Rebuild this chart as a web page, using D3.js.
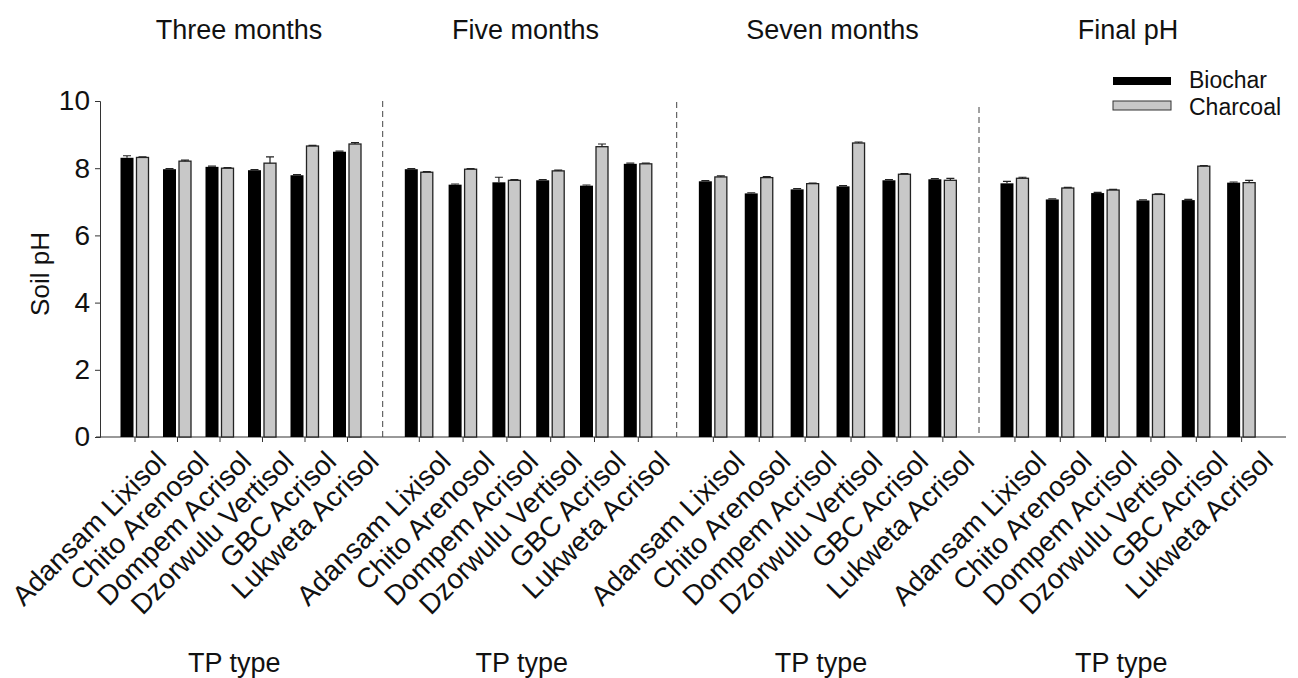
<!DOCTYPE html>
<html>
<head>
<meta charset="utf-8">
<script src="https://cdn.jsdelivr.net/npm/d3@7"></script>
<style>
  body { margin: 0; background: #fff; }
  svg { display: block; font-family: Arial, "Liberation Sans", sans-serif; }
</style>
</head>
<body>
<div id="chart"></div>
<script>
const periods = ["Three months", "Five months", "Seven months", "Final pH"];
const soils = ["Adansam Lixisol", "Chito Arenosol", "Dompem Acrisol", "Dzorwulu Vertisol", "GBC Acrisol", "Lukweta Acrisol"];
const seriesNames = ["Biochar", "Charcoal"];

// soil pH, one row per period
const biochar = [
  [8.31, 7.97, 8.04, 7.94, 7.79, 8.49],
  [7.97, 7.51, 7.58, 7.64, 7.48, 8.13],
  [7.61, 7.25, 7.37, 7.46, 7.64, 7.67],
  [7.55, 7.07, 7.26, 7.04, 7.05, 7.57]
];
const charcoal = [
  [8.32, 8.21, 8.00, 8.15, 8.66, 8.72],
  [7.88, 7.97, 7.64, 7.92, 8.64, 8.13],
  [7.74, 7.72, 7.54, 8.75, 7.82, 7.64],
  [7.70, 7.41, 7.35, 7.22, 8.06, 7.57]
];
// standard errors (upper side only)
const biocharErr = [
  [0.06, 0.02, 0.02, 0.02, 0.02, 0.02],
  [0.02, 0.02, 0.15, 0.02, 0.02, 0.02],
  [0.02, 0.02, 0.02, 0.02, 0.02, 0.02],
  [0.06, 0.02, 0.02, 0.02, 0.02, 0.02]
];
const charcoalErr = [
  [0.02, 0.03, 0.02, 0.19, 0.02, 0.04],
  [0.02, 0.02, 0.02, 0.02, 0.08, 0.02],
  [0.03, 0.03, 0.02, 0.03, 0.02, 0.06],
  [0.03, 0.02, 0.02, 0.02, 0.02, 0.07]
];
const yTicks = [0, 2, 4, 6, 8, 10];

const width = 1298, height = 678;
const baseY = 437, topY = 101;
// horizontal extent of each panel
const panelRanges = [[113.75, 368.75], [397.4, 660.2], [690.4, 965.8], [992.3, 1264.3]];
const titleX = [239, 525.5, 832.5, 1128];
const dividers = [[382.7, 101], [676.7, 102], [979, 107]];
const barW = 13;
const grey = "#c8c8c8";

const svg = d3.select("#chart").append("svg")
  .attr("width", width)
  .attr("height", height);

const y = d3.scaleLinear().domain([0, 10]).range([baseY, topY]);

// y axis
const yAxis = svg.append("g")
  .attr("transform", "translate(100,0)")
  .call(d3.axisLeft(y).tickValues(yTicks).tickSize(5).tickPadding(5));
yAxis.select(".domain").attr("stroke", "#333");
yAxis.selectAll(".tick line").attr("stroke", "#333");
yAxis.selectAll("text").attr("font-size", 28).attr("fill", "#111");

svg.append("text")
  .attr("transform", "translate(49,274) rotate(-90)")
  .attr("text-anchor", "middle")
  .attr("font-size", 26)
  .attr("fill", "#111")
  .text("Soil pH");

// baseline
svg.append("line")
  .attr("x1", 96).attr("x2", 1286)
  .attr("y1", baseY).attr("y2", baseY)
  .attr("stroke", "#333");

// dashed dividers between periods
svg.selectAll(".divider")
  .data(dividers)
  .join("line")
  .attr("class", "divider")
  .attr("x1", d => d[0]).attr("x2", d => d[0])
  .attr("y1", d => d[1]).attr("y2", baseY)
  .attr("stroke", "#444")
  .attr("stroke-dasharray", "6,4");

periods.forEach((period, p) => {
  const [a, b] = panelRanges[p];
  const x = d3.scaleBand().domain(soils).range([a, b]);
  const cx = s => x(s) + x.bandwidth() / 2;
  const g = svg.append("g");

  const xAxis = g.append("g")
    .attr("transform", `translate(0,${baseY})`)
    .call(d3.axisBottom(x).tickSize(5));
  xAxis.select(".domain").remove();
  xAxis.selectAll(".tick line").attr("stroke", "#333");
  xAxis.selectAll("text")
    .attr("x", 0).attr("y", 0).attr("dy", 0)
    .attr("text-anchor", "end")
    .attr("transform", "translate(33,26) rotate(-45)")
    .attr("font-size", 28)
    .attr("fill", "#111");

  // biochar bars
  g.selectAll(".bio")
    .data(soils)
    .join("rect")
    .attr("x", s => cx(s) - barW - 1.5)
    .attr("y", (s, i) => y(biochar[p][i]))
    .attr("width", barW)
    .attr("height", (s, i) => baseY - y(biochar[p][i]))
    .attr("fill", "#000");

  // charcoal bars
  g.selectAll(".char")
    .data(soils)
    .join("rect")
    .attr("x", s => cx(s) + 1.5)
    .attr("y", (s, i) => y(charcoal[p][i]))
    .attr("width", barW - 1)
    .attr("height", (s, i) => baseY - y(charcoal[p][i]))
    .attr("fill", grey)
    .attr("stroke", "#222")
    .attr("stroke-width", 1.3);

  // error bars
  const errs = [
    soils.map((s, i) => ({ x: cx(s) - barW / 2 - 1.5, v: biochar[p][i], e: biocharErr[p][i] })),
    soils.map((s, i) => ({ x: cx(s) + barW / 2 + 1, v: charcoal[p][i], e: charcoalErr[p][i] }))
  ].flat();
  g.selectAll(".err")
    .data(errs)
    .join("path")
    .attr("d", d => `M${d.x},${y(d.v)}V${y(d.v + d.e)}M${d.x - 4},${y(d.v + d.e)}H${d.x + 4}`)
    .attr("stroke", "#222")
    .attr("stroke-width", 1.2)
    .attr("fill", "none");

  // panel title and axis title
  svg.append("text")
    .attr("x", titleX[p])
    .attr("y", 39)
    .attr("text-anchor", "middle")
    .attr("font-size", 27)
    .attr("fill", "#111")
    .text(period);

  svg.append("text")
    .attr("x", (a + b) / 2 - 7)
    .attr("y", 672)
    .attr("text-anchor", "middle")
    .attr("font-size", 27)
    .attr("fill", "#111")
    .text("TP type");
});

// legend
const legend = svg.append("g").attr("transform", "translate(1113,0)");
legend.selectAll("rect")
  .data(seriesNames)
  .join("rect")
  .attr("x", 0)
  .attr("y", (d, i) => i === 0 ? 77 : 101)
  .attr("width", 58)
  .attr("height", (d, i) => i === 0 ? 8 : 9)
  .attr("fill", (d, i) => i === 0 ? "#000" : grey)
  .attr("stroke", (d, i) => i === 0 ? "none" : "#333");
legend.selectAll("text")
  .data(seriesNames)
  .join("text")
  .attr("x", 76)
  .attr("y", (d, i) => i === 0 ? 88 : 115)
  .attr("font-size", 23)
  .attr("fill", "#111")
  .text(d => d);
</script>
</body>
</html>
